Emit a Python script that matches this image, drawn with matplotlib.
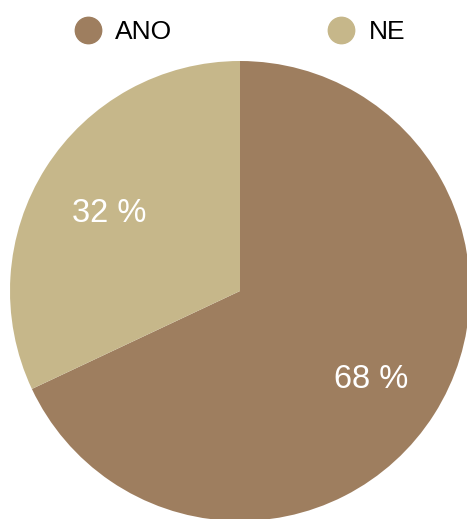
import matplotlib
matplotlib.use("Agg")
import matplotlib.pyplot as plt
from matplotlib.lines import Line2D

plt.rcParams['font.family'] = ['Liberation Sans', 'DejaVu Sans']

# data
labels = ["ANO", "NE"]
values = [68, 32]
colors = ["#9e7e5f", "#c6b78a"]

fig = plt.figure(figsize=(4.67, 5.19), dpi=100)
# pie centred at (240, 291) px, radius ~230 px
ax = fig.add_axes([10 / 467, -2 / 519, 460 / 467, 460 / 519])
wedges, texts, autotexts = ax.pie(
    values, colors=colors, startangle=90, counterclock=False,
    autopct=lambda p: f"{p:.0f} %", pctdistance=0.675, radius=1.0,
    textprops=dict(color="white", fontsize=23.5),
)
# nudge the percentage labels a bit lower
for t in autotexts:
    x, y = t.get_position()
    t.set_position((x, y - 0.025))
ax.set_xlim(-1, 1)
ax.set_ylim(-1, 1)
ax.set_aspect("equal")
ax.axis("off")

# legend on top
handles = [Line2D([0], [0], marker="o", linestyle="", markersize=19,
                  markerfacecolor=c, markeredgecolor=c) for c in colors]
fig.legend(handles, labels, loc="center", bbox_to_anchor=(240 / 467, 1 - 32 / 519),
           ncol=2, frameon=False, fontsize=19, handletextpad=0.55,
           columnspacing=5.9, handlelength=1.0)

fig.savefig("out.png", dpi=100)
